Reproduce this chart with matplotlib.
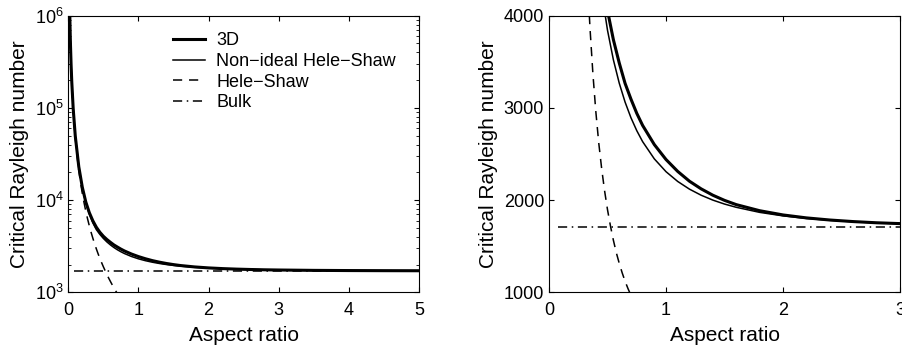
import matplotlib
matplotlib.use("Agg")
import matplotlib.pyplot as plt

plt.rcParams['font.family'] = ['Liberation Sans', 'DejaVu Sans']
plt.rcParams['mathtext.fontset'] = 'custom'
plt.rcParams['mathtext.rm'] = 'Liberation Sans'
plt.rcParams['mathtext.it'] = 'Liberation Sans'

# values
aspect_3d = [0.02, 0.03, 0.04, 0.05, 0.07, 0.10, 0.15, 0.20, 0.25, 0.30, 0.35, 0.40,
             0.45, 0.50, 0.55, 0.60, 0.65, 0.70, 0.75, 0.80, 0.90, 1.00, 1.10, 1.20,
             1.30, 1.40, 1.50, 1.60, 1.80, 2.00, 2.20, 2.40, 2.60, 2.80, 3.00, 3.50,
             4.00, 4.50, 5.00]
ra_3d = [1187000, 528000, 298000, 191500, 98700, 49500, 23000, 13800, 9530, 7310, 5970, 5080,
         4481, 4054, 3740, 3488, 3266, 3096, 2941, 2810, 2602, 2440, 2311, 2205,
         2122, 2053, 1997, 1951, 1885, 1839, 1807, 1784, 1767, 1754, 1745, 1729,
         1721, 1716, 1713]

aspect_nonideal = [0.02, 0.03, 0.04, 0.05, 0.07, 0.10, 0.15, 0.20, 0.25, 0.30, 0.35, 0.40,
                   0.45, 0.50, 0.55, 0.60, 0.65, 0.70, 0.75, 0.80, 0.90, 1.00, 1.10, 1.20,
                   1.30, 1.40, 1.50, 1.60, 1.80, 2.00, 2.20, 2.40, 2.60, 2.80, 3.00, 3.50,
                   4.00, 4.50, 5.00]
ra_nonideal = [1186800, 527800, 297800, 191300, 98500, 49200, 22850, 13650, 9380, 7065, 5670, 4790,
               4252, 3841, 3522, 3269, 3063, 2894, 2753, 2634, 2447, 2308, 2202, 2119,
               2053, 2000, 1957, 1922, 1867, 1829, 1801, 1781, 1765, 1753, 1744, 1729,
               1721, 1716, 1713]

aspect_hs = [0.02, 0.03, 0.04, 0.05, 0.06, 0.08, 0.10, 0.125, 0.15, 0.175, 0.20, 0.225,
             0.25, 0.275, 0.30, 0.325, 0.35, 0.375, 0.40, 0.425, 0.45, 0.475, 0.50,
             0.525, 0.55, 0.575, 0.60, 0.625, 0.65, 0.675, 0.70]
ra_hs = [1185000, 526000, 296000, 189500, 131600, 74000, 47400, 30300, 21050, 15470, 11850, 9360,
         7580, 6265, 5265, 4485, 3870, 3370, 2960, 2620, 2340, 2100, 1895,
         1720, 1565, 1430, 1315, 1212, 1120, 1040, 967]

aspect_bulk = [0.08, 5.0]
ra_bulk = [1708, 1708]

labels = ["3D", "Non\u2212ideal Hele\u2212Shaw", "Hele\u2212Shaw", "Bulk"]

fig = plt.figure(figsize=(9.03, 3.54), dpi=100)
ax1 = fig.add_axes([0.0756, 0.1743, 0.3884, 0.7814])
ax2 = fig.add_axes([0.608, 0.1743, 0.3887, 0.7814])


def draw_curves(ax):
    ax.plot(aspect_3d, ra_3d, color='black', lw=2.2, label=labels[0])
    ax.plot(aspect_nonideal, ra_nonideal, color='black', lw=1.1, label=labels[1])
    ax.plot(aspect_hs, ra_hs, color='black', lw=1.1, dashes=(6, 4.5), label=labels[2])
    ax.plot(aspect_bulk, ra_bulk, color='black', lw=1.1, dashes=(6, 3, 1, 3), label=labels[3])
    ax.tick_params(which='both', direction='in', top=True, right=True, labelsize=13)
    ax.tick_params(axis='x', pad=7)
    ax.set_xlabel("Aspect ratio", fontsize=15, labelpad=5)
    ax.set_ylabel("Critical Rayleigh number", fontsize=15)


draw_curves(ax1)
ax1.set_yscale('log')
ax1.set_xlim(0, 5)
ax1.set_ylim(1e3, 1e6)
ax1.set_xticks([0, 1, 2, 3, 4, 5])
ax1.legend(loc='upper left', bbox_to_anchor=(0.298, 0.94), frameon=False, fontsize=13,
           handlelength=1.8, handletextpad=0.6, labelspacing=0.2, borderpad=0, borderaxespad=0)

draw_curves(ax2)
ax2.set_xlim(0, 3)
ax2.set_ylim(1000, 4000)
ax2.set_xticks([0, 1, 2, 3])
ax2.set_yticks([1000, 2000, 3000, 4000])

plt.savefig("out.png", dpi=100)
